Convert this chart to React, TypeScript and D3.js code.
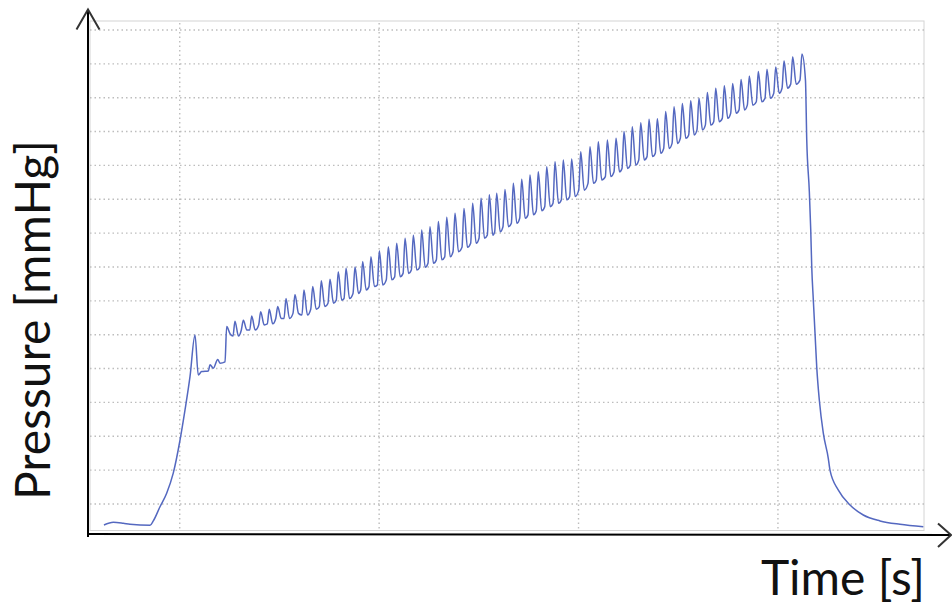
import React, { useEffect, useRef } from 'react'
import * as d3 from 'd3'

// cuff inflation: baseline, ramp, first overshoot and the short plateau
const rampTime = [1.4, 2.34, 3.34, 4.01, 6.02, 6.35, 7.02, 7.69, 8.35, 9.03, 9.53, 10.03, 10.53, 10.86, 11.2, 11.87, 12.04, 12.37, 12.81, 13.04, 13.54]
const rampPressure = [3.8, 4.6, 4.3, 4.0, 3.7, 5.0, 9.2, 13.2, 19.1, 28.9, 37.8, 47.6, 59.9, 48.1, 49.1, 49.3, 51.1, 50.1, 52.7, 51.6, 52.0]

// one entry per heart beat: time of the pulse top, pulse top and the low point after it
const beatTime = [
  13.71, 14.54, 15.38, 16.22, 17.12, 17.98, 18.83, 19.66, 20.56, 21.46,
  22.34, 23.2, 24.07, 24.9, 25.68, 26.58, 27.35, 28.18, 29.02, 29.92,
  30.76, 31.6, 32.43, 33.27, 34.1, 34.94, 35.78, 36.61, 37.51, 38.38,
  39.22, 40.05, 40.79, 41.62, 42.46, 43.3, 44.13, 44.96, 45.81, 46.64,
  47.47, 48.31, 49.22, 50.15, 50.98, 51.89, 52.76, 53.56, 54.39, 55.24,
  56.07, 56.9, 57.74, 58.58, 59.41, 60.25, 61.08, 61.92, 62.76, 63.62,
  64.46, 65.3, 66.13, 67.03, 67.9, 68.78, 69.61, 70.48, 71.41,
]
const peakPressure = [
  62.4, 64.0, 64.3, 65.5, 66.8, 67.5, 68.3, 70.7, 71.9, 73.2,
  74.2, 75.9, 76.4, 78.6, 79.6, 80.0, 81.6, 83.0, 84.8, 86.0,
  87.0, 88.5, 89.4, 90.9, 91.9, 93.4, 94.7, 95.9, 97.3, 98.8,
  100.3, 101.3, 101.8, 102.9, 104.7, 105.9, 107.2, 108.1, 109.6, 111.1,
  111.6, 111.9, 114.0, 115.5, 117.0, 117.5, 118.0, 120.0, 121.4, 122.6,
  123.6, 123.8, 125.9, 127.3, 128.3, 129.1, 129.8, 131.5, 132.8, 133.5,
  134.2, 135.4, 136.4, 137.7, 138.4, 139.1, 140.9, 142.1, 142.9,
]
const troughPressure = [
  60.2, 59.6, 61.4, 61.4, 62.9, 63.2, 64.8, 64.8, 66.3, 65.8,
  67.5, 68.3, 69.3, 70.2, 70.7, 72.2, 73.2, 74.2, 74.7, 76.2,
  77.1, 78.1, 79.1, 79.9, 81.1, 82.1, 83.0, 84.5, 85.8, 87.0,
  88.5, 89.4, 90.4, 91.9, 92.9, 94.4, 95.4, 96.6, 97.8, 98.8,
  99.8, 100.8, 102.7, 104.7, 105.7, 106.7, 108.1, 109.1, 110.1, 111.6,
  112.6, 113.6, 115.0, 116.5, 118.0, 119.0, 120.5, 121.9, 122.9, 123.9,
  125.4, 126.4, 127.8, 128.8, 129.8, 131.3, 132.8, 134.0, 135.2,
]

// cuff release
const releaseTime = [71.89, 72.15, 72.29, 72.39, 72.55, 72.72, 72.89, 73.15, 73.55, 74.05, 74.22, 75.06, 76.23, 77.56, 79.24, 81.24, 83.58]
const releasePressure = [117.5, 102.2, 90.9, 80.1, 70.2, 60.4, 50.5, 40.7, 30.9, 23.5, 20.0, 14.1, 9.7, 6.75, 5.0, 4.0, 3.3]

const pressureGrid = [10, 20, 30, 40, 50, 60, 70, 80, 90, 100, 110, 120, 130, 140, 150]
const timeGrid = [9, 29, 49, 69]

const W = 952
const H = 605

const PressureChart = () => {
  const ref = useRef<SVGSVGElement>(null)

  useEffect(() => {
    const svg = d3.select(ref.current)
    svg.selectAll('*').remove()

    const plot = { left: 90, right: 924, top: 21, bottom: 530.5 }

    const x = d3.scaleLinear().domain([0, 83.65]).range([plot.left, plot.right])
    const y = d3.scaleLinear().domain([2.32, 152.65]).range([530, 21])

    // plot frame
    svg
      .append('rect')
      .attr('x', plot.left)
      .attr('y', plot.top)
      .attr('width', plot.right - plot.left)
      .attr('height', plot.bottom - plot.top)
      .attr('fill', 'none')
      .attr('stroke', '#d4d4d4')
      .attr('stroke-width', 1)

    // dotted grid
    svg
      .append('g')
      .selectAll('line')
      .data(pressureGrid)
      .join('line')
      .attr('x1', plot.left)
      .attr('x2', plot.right)
      .attr('y1', (d) => y(d))
      .attr('y2', (d) => y(d))
      .attr('stroke', '#bdbdbd')
      .attr('stroke-width', 1.4)
      .attr('stroke-dasharray', '1.5 3')

    svg
      .append('g')
      .selectAll('line')
      .data(timeGrid)
      .join('line')
      .attr('x1', (d) => x(d))
      .attr('x2', (d) => x(d))
      .attr('y1', plot.top + 2)
      .attr('y2', plot.bottom)
      .attr('stroke', '#bdbdbd')
      .attr('stroke-width', 1.4)
      .attr('stroke-dasharray', '1.5 3')

    // trace
    const pts: [number, number][] = []
    rampTime.forEach((t, i) => pts.push([t, rampPressure[i]]))
    beatTime.forEach((t, i) => {
      if (i > 0) pts.push([t - 0.2, troughPressure[i]])
      pts.push([t, peakPressure[i]])
      pts.push([t + 0.35, troughPressure[i]])
    })
    releaseTime.forEach((t, i) => pts.push([t, releasePressure[i]]))

    const line = d3
      .line<[number, number]>()
      .x((d) => x(d[0]))
      .y((d) => y(d[1]))
      .curve(d3.curveMonotoneX)

    svg
      .append('path')
      .datum(pts)
      .attr('d', line)
      .attr('fill', 'none')
      .attr('stroke', '#5468c0')
      .attr('stroke-width', 1.5)
      .attr('stroke-linejoin', 'round')

    // axes with arrow heads
    svg.append('line').attr('x1', 88).attr('x2', 88).attr('y1', 537).attr('y2', 9.5).attr('stroke', '#000').attr('stroke-width', 2)
    svg.append('line').attr('x1', 87).attr('x2', 951).attr('y1', 534).attr('y2', 535).attr('stroke', '#000').attr('stroke-width', 2)

    svg
      .append('path')
      .attr('d', 'M76.5,29.5L88,9.5L99.5,29.5')
      .attr('fill', 'none')
      .attr('stroke', '#333')
      .attr('stroke-width', 2)
    svg
      .append('path')
      .attr('d', 'M938,523.5L951,535L938,547')
      .attr('fill', 'none')
      .attr('stroke', '#333')
      .attr('stroke-width', 2)

    // axis titles
    svg
      .append('text')
      .attr('transform', 'translate(50,320) rotate(-90)')
      .attr('text-anchor', 'middle')
      .attr('font-family', 'Lato, "Open Sans", sans-serif')
      .attr('font-size', 48)
      .attr('fill', '#111')
      .text('Pressure [mmHg]')

    svg
      .append('text')
      .attr('x', 925)
      .attr('y', 595)
      .attr('text-anchor', 'end')
      .attr('font-family', 'Lato, "Open Sans", sans-serif')
      .attr('font-size', 48)
      .attr('fill', '#111')
      .text('Time [s]')
  }, [])

  return <svg ref={ref} width={W} height={H} style={{ position: 'absolute', left: 0, top: 0, background: '#fff' }} />
}

export default function App() {
  return <PressureChart />
}
